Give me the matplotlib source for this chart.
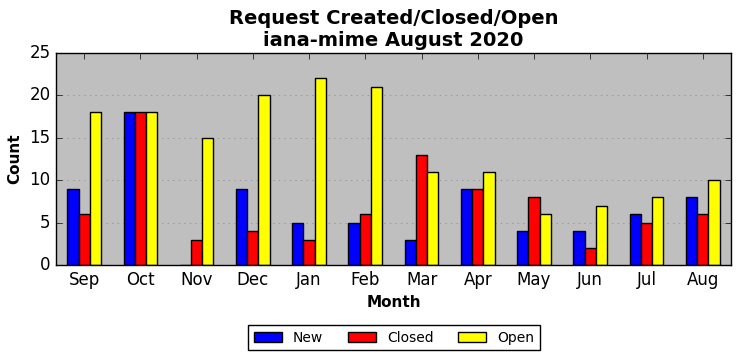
import matplotlib
matplotlib.use("Agg")
import matplotlib.pyplot as plt
import numpy as np

plt.style.use("classic")

months = ["Sep", "Oct", "Nov", "Dec", "Jan", "Feb", "Mar", "Apr", "May", "Jun", "Jul", "Aug"]
new = [9, 18, 0, 9, 5, 5, 3, 9, 4, 4, 6, 8]
closed = [6, 18, 3, 4, 3, 6, 13, 9, 8, 2, 5, 6]
open_ = [18, 18, 15, 20, 22, 21, 11, 11, 6, 7, 8, 10]

fig = plt.figure(figsize=(7.42, 3.61), dpi=100, facecolor="white")
ax = fig.add_axes([0.0755, 0.266, 0.9095, 0.587])
ax.set_facecolor("#bfbfbf")

x = np.arange(len(months))
w = 0.2
ax.bar(x - w, new, w, color="blue", edgecolor="black", label="New", align="center")
ax.bar(x, closed, w, color="red", edgecolor="black", label="Closed", align="center")
ax.bar(x + w, open_, w, color="yellow", edgecolor="black", label="Open", align="center")

ax.set_xlim(-0.5, len(months) - 0.5)
ax.set_ylim(0, 25)
ax.set_yticks([0, 5, 10, 15, 20, 25])
ax.set_xticks(x)
ax.set_xticklabels(months, fontsize=12)
ax.tick_params(axis="y", labelsize=12)
ax.yaxis.grid(True, linestyle=":", color="#888888")
ax.xaxis.grid(False)
ax.set_axisbelow(True)
ax.set_xlabel("Month", fontsize=11, fontweight="bold")
ax.set_ylabel("Count", fontsize=11, fontweight="bold")
ax.set_title("Request Created/Closed/Open\niana-mime August 2020", fontsize=14, fontweight="bold")

fig.legend(loc="center", bbox_to_anchor=(0.531, 0.064), ncol=3, fontsize=10, frameon=True,
           columnspacing=1.8, handletextpad=0.8)

fig.savefig("out.png", dpi=100, facecolor="white")
